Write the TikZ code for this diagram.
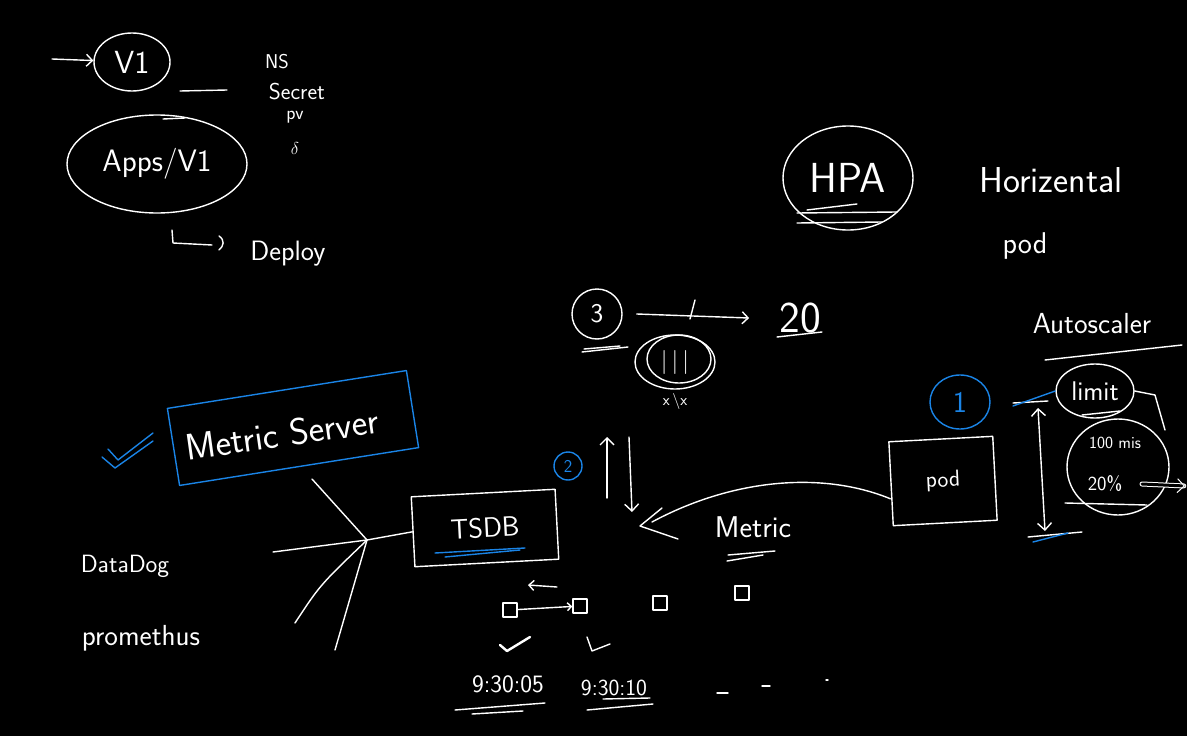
\documentclass[tikz,border=0pt]{standalone}
\usepackage{tikz}
\usetikzlibrary{arrows.meta, calc, positioning, shapes.geometric}
\definecolor{penblue}{HTML}{1A84E6}

\begin{document}
\begin{tikzpicture}[x=1pt, y=-1pt, line cap=round, line join=round,
  chalk/.style={draw=white, line width=1.4pt},
  bluepen/.style={draw=penblue, line width=1.4pt},
  hand/.style={text=white, inner sep=0pt, font=\sffamily\fontsize{#1}{#1}\selectfont},
  bluehand/.style={hand=#1, text=penblue},
  loop/.style={ellipse, inner sep=0pt}]
  \fill[black] (0,0) rectangle (1187,736);
  \useasboundingbox (0,0) rectangle (1187,736);

  % api versions, top left
  \node[hand=32, chalk, loop, minimum width=76, minimum height=58] (v1) at (132,62) {V1};
  \coordinate (v1in) at (52,59);
  \draw[chalk, -{Straight Barb[length=6pt]}] (v1in) -- (v1);
  \draw[chalk] (180,91) -- (227,90);
  \node[hand=31, chalk, loop, minimum width=180, minimum height=98] (apps) at (157,164) {Apps/V1};
  \draw[chalk] (163,119) -- (185,118);
  \node[hand=20] (ns) at (277,62) {NS};
  \node[hand=23] (secret) at (297,92) {Secret};
  \node[hand=19] (pv) at (295,117) {pv};
  \node[hand=19] (etc) at (295,148) {$\delta$};
  \node[hand=28] (deploy) at (288,254) {Deploy};
  \draw[chalk] (172,230) -- (173,243) -- (212,245);
  \draw[chalk] (219,236) .. controls (225,240) and (224,246) .. (219,250);

  % HPA
  \node[hand=42, chalk, loop, minimum width=130, minimum height=104] (hpa) at (848,178) {HPA};
  \draw[chalk] (797,213) -- (897,212);
  \draw[chalk] (797,223) -- (882,222);
  \draw[chalk] (807,210) -- (857,204);
  \node[hand=36] (horiz) at (1051,180) {Horizental};
  \node[hand=30] (hpod) at (1025,246) {pod};
  \node[hand=29] (autosc) at (1092,324) {Autoscaler};
  \draw[chalk] (1045,360) -- (1182,345);

  % replicas 3 -> 20
  \node[hand=27, chalk, circle, minimum size=50] (three) at (597,314) {3};
  \draw[chalk] (582,352) -- (628,347);
  \draw[chalk] (584,349) -- (620,346);
  \node[hand=44] (twenty) at (800,318) {20};
  \draw[chalk] (777,337) -- (822,332);
  \draw[chalk, -{Straight Barb[length=6pt]}] ([xshift=14pt]three.east) -- ([xshift=-30pt]twenty.west);
  \draw[chalk] (690,319) -- (695,300);
  \node[hand=24, chalk, loop, minimum width=80, minimum height=54] (pods) at (675,362) {|\,|\,|};
  \node[chalk, loop, minimum width=64, minimum height=48] (podsin) at (679,359) {};
  \node[hand=16, below=4pt of pods] (cross) {x\,\textbackslash x};

  % pod with limit
  \node[bluehand=30, bluepen, loop, minimum width=60, minimum height=54] (one) at (960,402) {1};
  \node[hand=23, chalk, minimum width=104, minimum height=84, rotate=3] (pod) at (943,481) {pod};
  \node[hand=27, chalk, loop, minimum width=78, minimum height=54] (limit) at (1095,391) {limit};
  \draw[chalk] (1082,415) -- (1120,411);
  \node[chalk, loop, minimum width=102, minimum height=96] (quota) at (1118,467) {};
  \node[hand=17] (cpu) at (1115,443) {100 mis};
  \node[hand=20] (pct) at (1105,484) {20\%};
  \draw[chalk] (1065,503) -- (1147,505);
  \draw[chalk] (limit.east) -- (1155,395) -- (1165,430);
  \coordinate (pctout) at (1185,486);
  \draw[chalk, line width=1pt, double=black, double distance=3pt, -{Straight Barb[length=7pt]}] (1142,484) -- (pctout);
  % range of the limit
  \coordinate (ltop) at (1038,408);
  \coordinate (lbot) at (1045,531);
  \draw[chalk, {Straight Barb[length=7pt]}-{Straight Barb[length=7pt]}] (ltop) -- (lbot);
  \draw[chalk] (1013,403) -- (1048,401);
  \draw[bluepen] (1013,406) -- (limit.west);
  \draw[chalk] (1028,537) -- (1082,532);
  \draw[bluepen] (1033,542) -- (1068,533);

  % metric flow
  \coordinate (metricin) at (640,526);
  \draw[chalk] ([yshift=-15pt]pod.west) .. controls (820,470) and (730,480) .. (652,522);
  \draw[chalk] (662,508) -- (metricin) -- (678,539);
  \node[hand=30] (metric) at (753,527) {Metric};
  \draw[chalk] (728,555) -- (775,551);
  \draw[chalk] (727,561) -- (763,555);
  \coordinate (upfrom) at (607,498);
  \coordinate (upto) at (607,437);
  \coordinate (downfrom) at (629,437);
  \coordinate (downto) at (632,512);
  \draw[chalk, -{Straight Barb[length=7pt]}] (upfrom) -- (upto);
  \draw[chalk, -{Straight Barb[length=7pt]}] (downfrom) -- (downto);
  \node[bluehand=18, bluepen, circle, minimum size=28] (two) at (568,466) {2};

  % TSDB and its sources
  \node[hand=28, chalk, minimum width=144, minimum height=70, rotate=3] (tsdb) at (485,528) {TSDB};
  \draw[bluepen] (435,553) -- (525,548);
  \draw[bluepen] (445,557) -- (520,550);
  \coordinate (hub) at (367,540);
  \draw[chalk] (hub) -- (tsdb.west);
  \draw[chalk] (312,479) -- (hub);
  \draw[chalk] (273,552) -- (hub);
  \draw[chalk] (295,623) .. controls (320,585) .. (hub);
  \draw[chalk] (335,650) -- (hub);

  % metric server
  \node[bluepen, minimum width=242, minimum height=78, rotate=9] (mserver) at (293,428) {};
  \node[hand=37, rotate=8] (mstext) at (282,434) {Metric Server};
  \draw[bluepen] (108,449) -- (118,460) -- (153,433);
  \draw[bluepen] (102,457) -- (115,468) -- (153,441);
  \node[hand=25] (datadog) at (125,566) {DataDog};
  \node[hand=29] (prom) at (141,638) {promethus};

  % scrape samples
  \foreach \name/\px/\py in {s1/510/610, s2/580/606, s3/660/603, s4/742/593}
    \node[chalk, minimum size=14, inner sep=0pt] (\name) at (\px,\py) {};
  \draw[chalk, -{Straight Barb[length=4pt]}] (s1) -- (s2);
  \draw[chalk, -{Straight Barb[length=5pt]}] (557,587) -- (528,585);
  \draw[chalk, line width=2.4pt] (500,645) -- (507,651) -- (530,637);
  \draw[chalk] (587,637) -- (592,651) -- (610,644);
  \node[hand=25] (t1) at (508,684) {9:30:05};
  \node[hand=23] (t2) at (614,688) {9:30:10};
  \draw[chalk] (455,710) -- (545,703);
  \draw[chalk] (472,714) -- (523,711);
  \draw[chalk] (603,699) -- (650,698);
  \draw[chalk] (587,710) -- (653,704);
  \draw[chalk] (717,693) -- (728,693);
  \draw[chalk] (762,686) -- (770,686);
  \draw[chalk] (826,680) -- (828,680);
\end{tikzpicture}
\end{document}
